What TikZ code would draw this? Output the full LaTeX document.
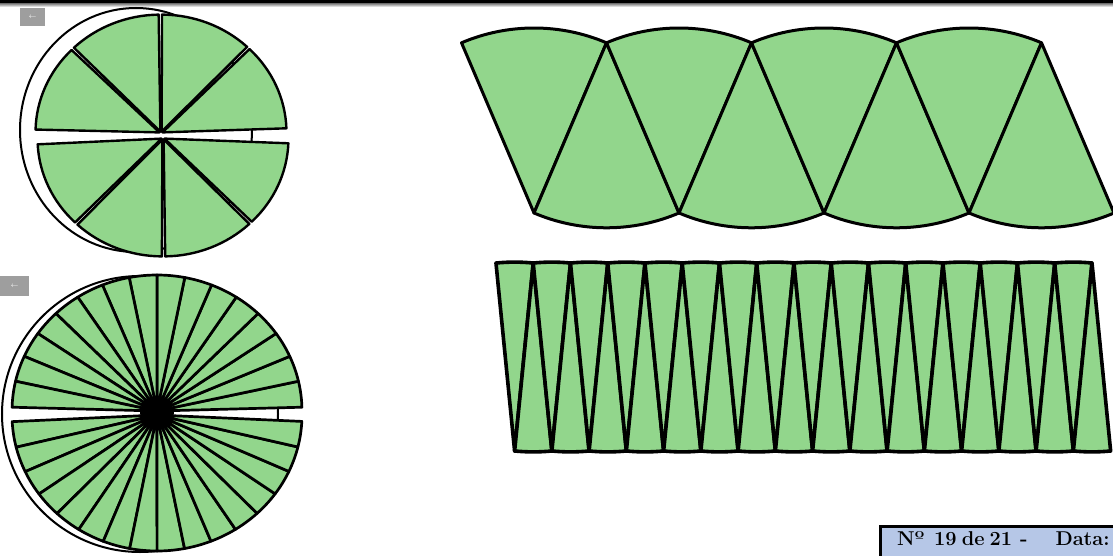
\documentclass[tikz,border=0pt]{standalone}
\usepackage{graphicx}
\definecolor{sectorgreen}{RGB}{146,214,140}
\definecolor{labelblue}{RGB}{182,199,231}
\definecolor{btngray}{RGB}{158,158,158}
\tikzset{
  sector/.style={fill=sectorgreen, draw=black, line width=2.4pt, line join=round},
  finesector/.style={fill=sectorgreen, draw=black, line width=2.7pt, line join=round},
  bigsector/.style={fill=sectorgreen, draw=black, line width=3pt, line join=round},
  thinwedge/.style={fill=sectorgreen, draw=black, line width=3.6pt, line join=round},
  outlinecirc/.style={draw=black, fill=white, line width=2pt},
  backbtn/.style={fill=btngray, draw=none},
  btnarrow/.style={text=white, inner sep=0pt, font=\fontsize{7}{7}\selectfont},
}
\begin{document}
\begin{tikzpicture}[x=1pt,y=1pt]
\useasboundingbox (0,0) rectangle (1113,-556);
\fill[white] (0,0) rectangle (1113,-556);

% top bar
\fill[black] (0,0) rectangle (1113,-3.5);
\shade[top color=gray, bottom color=white] (0,-3.5) rectangle (1113,-7);

% ---------- circle cut into 8 sectors ----------
\draw[outlinecirc] (136,-130) ellipse [x radius=116, y radius=122];
\begin{scope}[shift={(161,-133)}, xscale=1.06]
  \foreach \k in {0,...,3} {
    \pgfmathsetmacro\a{1.5+44.4*\k+0.5}
    \pgfmathsetmacro\b{1.5+44.4*(\k+1)-0.5}
    \pgfmathsetmacro\m{(\a+\b)/2}
    \filldraw[sector, shift={(\m:1.5)}] (0,0) -- (\a:117) arc[start angle=\a, end angle=\b, radius=117] -- cycle;
  }
\end{scope}
\begin{scope}[shift={(163,-138)}, xscale=1.06]
  \foreach \k in {0,...,3} {
    \pgfmathsetmacro\a{182.3+43.975*\k+0.5}
    \pgfmathsetmacro\b{182.3+43.975*(\k+1)-0.5}
    \pgfmathsetmacro\m{(\a+\b)/2}
    \filldraw[sector, shift={(\m:1.5)}] (0,0) -- (\a:117) arc[start angle=\a, end angle=\b, radius=117] -- cycle;
  }
\end{scope}

% ---------- circle cut into 32 sectors ----------
\draw[outlinecirc] (140,-414) circle [radius=138];
\begin{scope}[shift={(157,-411)}, xscale=1.066]
  \foreach \k in {0,...,15} {
    \pgfmathsetmacro\a{1.6+11.05*\k}
    \pgfmathsetmacro\b{1.6+11.05*(\k+1)}
    \filldraw[finesector] (0,0) -- (\a:136) arc[start angle=\a, end angle=\b, radius=136] -- cycle;
  }
\end{scope}
\begin{scope}[shift={(157,-415)}, xscale=1.066]
  \foreach \k in {0,...,15} {
    \pgfmathsetmacro\a{182.8+10.906*\k}
    \pgfmathsetmacro\b{182.8+10.906*(\k+1)}
    \filldraw[finesector] (0,0) -- (\a:136) arc[start angle=\a, end angle=\b, radius=136] -- cycle;
  }
\end{scope}
\fill[black] (157,-413) ellipse [x radius=17, y radius=13];

% back buttons
\fill[backbtn] (20,-8) rectangle (45,-26);
\node[btnarrow] (btnA) at (32.5,-17) {$\leftarrow$};
\fill[backbtn] (0,-276) rectangle (29,-296);
\node[btnarrow] (btnB) at (14.5,-286) {$\leftarrow$};

% ---------- 8 sectors rearranged ----------
\foreach \i in {0,...,3} {
  \begin{scope}[shift={({534+145*\i},-213)}]
    \filldraw[bigsector] (0,0) -- (66.93:185) arc[start angle=66.93, end angle=113.07, radius=185] -- cycle;
  \end{scope}
  \begin{scope}[shift={({606.5+145*\i},-42.8)}]
    \filldraw[bigsector] (0,0) -- (246.93:185) arc[start angle=246.93, end angle=293.07, radius=185] -- cycle;
  \end{scope}
}

% ---------- 32 sectors rearranged ----------
\foreach \j in {0,...,15} {
  \begin{scope}[shift={({514.6+37.25*\j},-451)}]
    \filldraw[thinwedge] (0,0) -- (84.34:188.9) arc[start angle=84.34, end angle=95.66, radius=188.9] -- cycle;
  \end{scope}
  \begin{scope}[shift={({533.25+37.25*\j},-263)}]
    \filldraw[thinwedge] (0,0) -- (264.34:188.9) arc[start angle=264.34, end angle=275.66, radius=188.9] -- cycle;
  \end{scope}
}

% ---------- label box ----------
\filldraw[fill=labelblue, draw=black, line width=3pt] (880,-526) rectangle (1122,-564);
\node[anchor=base west, inner sep=0pt, font=\fontsize{20}{20}\selectfont\bfseries] (label) at (897,-545)
  {Nº\hspace{10pt}19\hspace{5pt}de\hspace{5pt}21\hspace{8pt}-\hspace{28pt}Data:};
\end{tikzpicture}
\end{document}
